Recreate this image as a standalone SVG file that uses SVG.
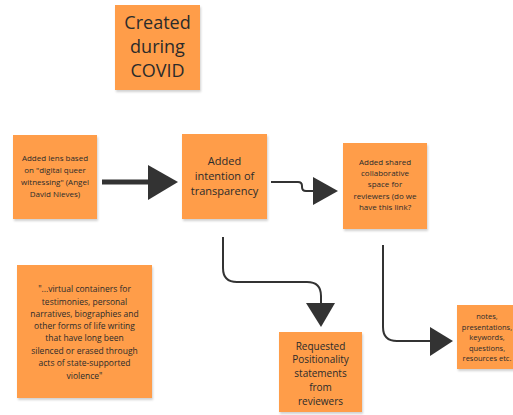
<svg xmlns="http://www.w3.org/2000/svg" width="513" height="415" viewBox="0 0 513 415">
<defs>
<filter id="sh" x="-10%" y="-10%" width="130%" height="130%">
<feDropShadow dx="1" dy="2" stdDeviation="1.2" flood-color="#000" flood-opacity="0.18"/>
</filter>
</defs>
<style>
.note{fill:#FF9D48;filter:url(#sh)}
text{font-family:"Open Sans","Liberation Sans",sans-serif;fill:#2b2b2b;text-anchor:middle}
.conn{fill:none;stroke:#333;stroke-width:2}
.head{fill:#333}
</style>
<rect width="513" height="415" fill="#fff"/>
<g id="connectors">
<line x1="102" y1="182" x2="150" y2="182" stroke="#333" stroke-width="5"/>
<polygon class="head" points="148,165 178,182 148,200"/>
<path class="conn" d="M271 182 H298 Q302 182 302 186 V187 Q302 191 306 191 H315"/>
<polygon class="head" points="313,177 338,191 313,205"/>
<path class="conn" d="M223 237 V268 Q223 282 237 282 H307 Q321 282 321 296 V305"/>
<polygon class="head" points="306,303 335,303 321,327"/>
<path class="conn" d="M383 245 V327 Q383 341 397 341 H432"/>
<polygon class="head" points="430,327 453,341 430,356"/>
</g>
<g id="covid">
<rect class="note" x="115" y="5" width="85" height="85"/>
<text font-size="18" x="157.5"><tspan x="157.5" y="29">Created</tspan><tspan x="157.5" y="53">during</tspan><tspan x="157.5" y="77">COVID</tspan></text>
</g>
<g id="lens">
<rect class="note" x="13" y="135" width="84" height="84"/>
<text font-size="8"><tspan x="55" y="161">Added lens based</tspan><tspan x="55" y="173">on "digital queer</tspan><tspan x="55" y="185">witnessing" (Angel</tspan><tspan x="55" y="197">David Nieves)</tspan></text>
</g>
<g id="transparency">
<rect class="note" x="182" y="134" width="85" height="85"/>
<text font-size="11"><tspan x="224.5" y="165">Added</tspan><tspan x="224.5" y="180">intention of</tspan><tspan x="224.5" y="195">transparency</tspan></text>
</g>
<g id="shared">
<rect class="note" x="343" y="143" width="84" height="86"/>
<text font-size="8"><tspan x="385" y="165">Added shared</tspan><tspan x="385" y="176">collaborative</tspan><tspan x="385" y="187">space for</tspan><tspan x="385" y="199">reviewers (do we</tspan><tspan x="385" y="210">have this link?</tspan></text>
</g>
<g id="quote">
<rect class="note" x="17" y="265" width="135" height="133"/>
<text font-size="8.5"><tspan x="84.5" y="292">"...virtual containers for</tspan><tspan x="84.5" y="305">testimonies, personal</tspan><tspan x="84.5" y="317">narratives, biographies and</tspan><tspan x="84.5" y="329">other forms of life writing</tspan><tspan x="84.5" y="341">that have long been</tspan><tspan x="84.5" y="354">silenced or erased through</tspan><tspan x="84.5" y="366">acts of state-supported</tspan><tspan x="84.5" y="379">violence"</tspan></text>
</g>
<g id="positionality">
<rect class="note" x="279" y="332" width="83" height="80"/>
<text font-size="10"><tspan x="320.5" y="349.5">Requested</tspan><tspan x="320.5" y="363">Positionality</tspan><tspan x="320.5" y="377">statements</tspan><tspan x="320.5" y="391">from</tspan><tspan x="320.5" y="405">reviewers</tspan></text>
</g>
<g id="notes">
<rect class="note" x="457" y="305" width="58" height="64"/>
<text font-size="7.5"><tspan x="487" y="319">notes,</tspan><tspan x="487" y="330">presentations,</tspan><tspan x="487" y="340">keywords,</tspan><tspan x="487" y="351">questions,</tspan><tspan x="487" y="361">resources etc.</tspan></text>
</g>
</svg>
